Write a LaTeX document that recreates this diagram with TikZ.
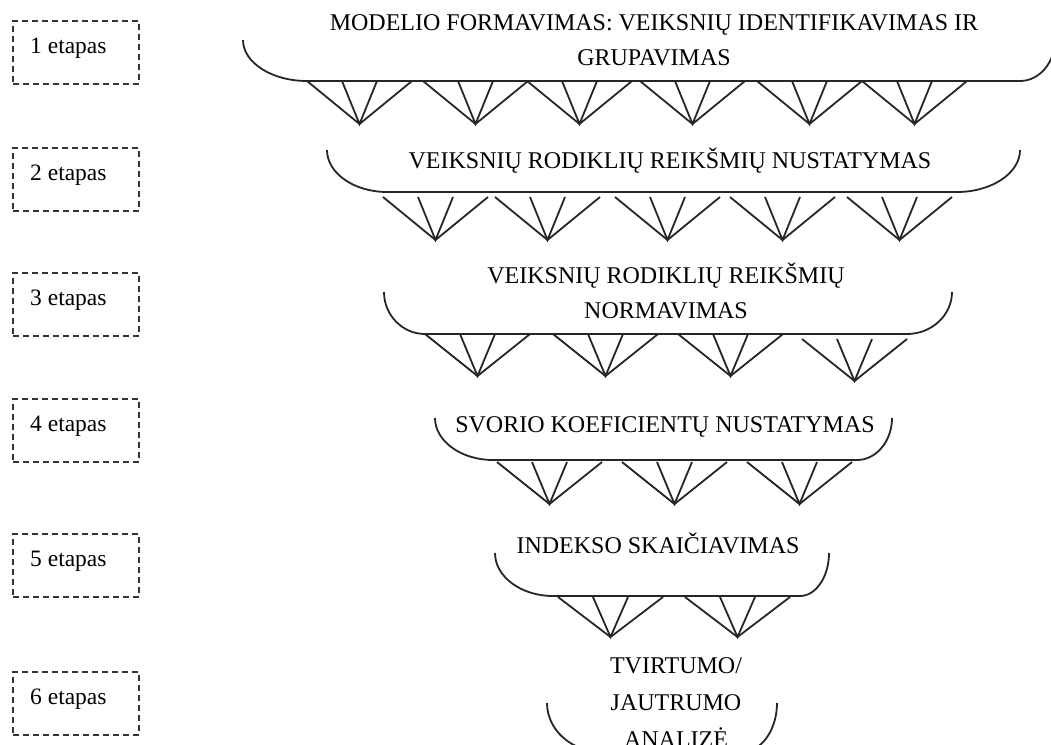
\documentclass[tikz,border=0pt]{standalone}
\usepackage{fontspec}
\setmainfont{Liberation Serif}
\newcommand\drawfan[3]{%
  \draw[fanline] (#1,#2) -- (#1+52.5,#3) -- (#1+105,#2);
  \draw[fanline] (#1+35,#2) -- (#1+52.5,#3) -- (#1+70,#2);}
\newcommand\drawbracket[6]{%
  \draw[bracket] (#1,#2) .. controls (#1,{#2+0.55*(#4-#2)}) and ({#1+0.45*#3},#4) .. ({#1+#3},#4)
    -- ({#5-#6},#4) .. controls ({#5-0.45*#6},#4) and (#5,{#2+0.55*(#4-#2)}) .. (#5,#2);}
\begin{document}
\begin{tikzpicture}[x=1pt,y=-1pt,
  stagebox/.style={draw=black!80, line width=1.7pt, dash pattern=on 6pt off 4pt,
    minimum width=126pt, minimum height=63pt, anchor=north west, inner sep=0pt},
  stagetxt/.style={font=\fontsize{23.5}{28}\selectfont, anchor=base west, inner sep=0pt},
  bracket/.style={line width=1.8pt, black!85},
  fanline/.style={line width=1.8pt, black!85},
  title/.style={font=\fontsize{24}{35}\selectfont, align=center, inner sep=0pt, anchor=base}]
\useasboundingbox (0,0) rectangle (1051,744);
\clip (0,0) rectangle (1051,744);
% stage boxes
\foreach \i/\y in {1/20,2/147,3/272,4/398,5/533,6/671}{
  \node[stagebox] (s\i) at (12,\y) {};
  \node[stagetxt] (st\i) at ([shift={(18,33)}]s\i.north west) {\i{} etapas};
}
% titles (anchor base = baseline of the last line)
\node[title] (t1) at (654,65) {MODELIO FORMAVIMAS: VEIKSNIŲ IDENTIFIKAVIMAS IR\\GRUPAVIMAS};
\node[title] (t2) at (670,168) {VEIKSNIŲ RODIKLIŲ REIKŠMIŲ NUSTATYMAS};
\node[title] (t3) at (666,318) {VEIKSNIŲ RODIKLIŲ REIKŠMIŲ\\NORMAVIMAS};
\node[title] (t4) at (665,432) {SVORIO KOEFICIENTŲ NUSTATYMAS};
\node[title] (t5) at (658,553) {INDEKSO SKAIČIAVIMAS};
\node[title, font=\fontsize{24}{37}\selectfont] (t6) at (676,747) {TVIRTUMO/\\JAUTRUMO\\ANALIZĖ};
% brackets
\drawbracket{243}{40}{64}{81}{1055}{35}
\drawbracket{327}{150}{60}{192}{1020}{63}
\drawbracket{384}{292}{41}{334}{952}{45}
\drawbracket{435}{418}{58}{460}{892}{35}
\drawbracket{495}{553}{58}{596}{829}{29}
\drawbracket{547}{703}{55}{752}{777}{35}
% fans
\foreach \l in {307,423,527,640,757,862}{\drawfan{\l}{81}{124}}
\foreach \l in {383,495,615,730,847}{\drawfan{\l}{197}{240}}
\foreach \l in {425,553,678}{\drawfan{\l}{334}{376}}
\drawfan{802}{339}{381}
\foreach \l in {497,622,747}{\drawfan{\l}{462}{504}}
\foreach \l in {558,685}{\drawfan{\l}{597}{637}}
\end{tikzpicture}
\end{document}
